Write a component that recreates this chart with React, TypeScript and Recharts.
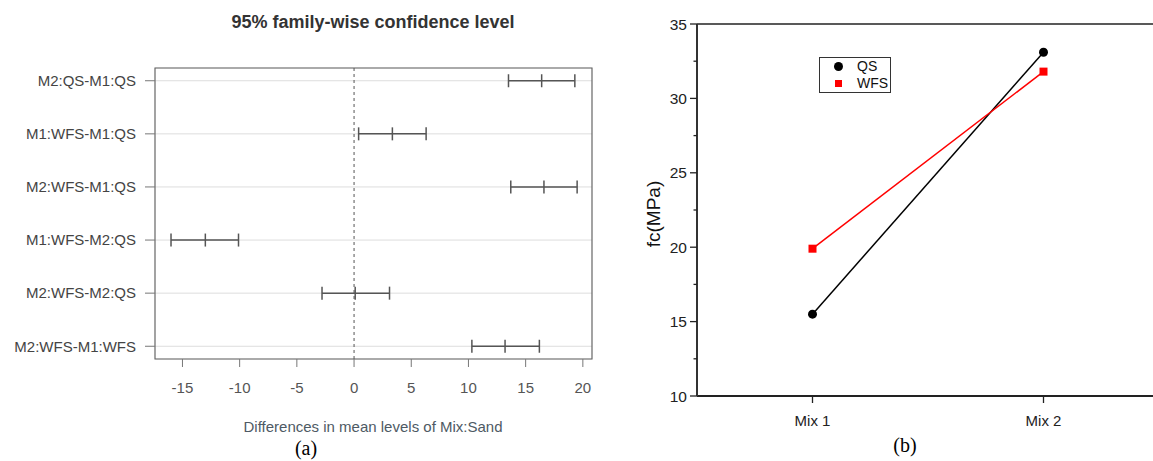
import {
  ScatterChart,
  Scatter,
  LineChart,
  Line,
  XAxis,
  YAxis,
  CartesianGrid,
  ReferenceLine,
  ReferenceArea,
} from "recharts";

// (a) Tukey HSD intervals
const comparisons = [
  "M2:QS-M1:QS",
  "M1:WFS-M1:QS",
  "M2:WFS-M1:QS",
  "M1:WFS-M2:QS",
  "M2:WFS-M2:QS",
  "M2:WFS-M1:WFS",
];
const diffLower = [13.5, 0.4, 13.7, -16.0, -2.8, 10.3];
const diffMean = [16.4, 3.35, 16.6, -13.0, 0.1, 13.2];
const diffUpper = [19.3, 6.3, 19.5, -10.1, 3.1, 16.2];
const diffTicks = [-15, -10, -5, 0, 5, 10, 15, 20];
const diffDomain = [-17.4, 20.8];
const rowDomain = [0.76, 6.24];

// (b) compressive strength
const mixes = ["Mix 1", "Mix 2"];
const qsStrength = [15.5, 33.1];
const wfsStrength = [19.9, 31.8];
const strengthTicks = [10, 12.5, 15, 17.5, 20, 22.5, 25, 27.5, 30, 32.5, 35];

const sans = "'Liberation Sans', Arial, sans-serif";
const serif = "'Liberation Serif', 'Times New Roman', serif";

const rows = comparisons.map((name, i) => ({
  name,
  points: [
    { x: diffLower[i], y: i + 1 },
    { x: diffMean[i], y: i + 1 },
    { x: diffUpper[i], y: i + 1 },
  ],
}));

const strengthData = mixes.map((m, i) => ({
  x: i + 1,
  mix: m,
  qs: qsStrength[i],
  wfs: wfsStrength[i],
}));

function IntervalTick(props: any) {
  const { cx, cy } = props;
  return (
    <line x1={cx} x2={cx} y1={cy - 6.5} y2={cy + 6.5} stroke="#555" strokeWidth={1.5} />
  );
}

function StrengthTick({ x, y, payload }: any) {
  const major = payload.value % 5 === 0;
  return (
    <g>
      <line x1={x - (major ? 7 : 3.5)} x2={x} y1={y} y2={y} stroke="#222" strokeWidth={1.3} />
      {major && (
        <text x={x - 10} y={y} textAnchor="end" dominantBaseline="central" fontSize={15.5} fill="#222" fontFamily={sans}>
          {payload.value}
        </text>
      )}
    </g>
  );
}

function SquareDot({ cx, cy, index }: any) {
  return <rect key={index} x={cx - 4} y={cy - 4} width={8} height={8} fill="#ff0000" />;
}

export default function App() {
  return (
    <div style={{ position: "relative", width: 1153, height: 461, overflow: "hidden", background: "#fff", fontFamily: sans }}>
      <style>{`body{margin:0}`}</style>

      {/* panel (a) */}
      <div style={{ position: "absolute", left: 173, width: 400, top: 12, textAlign: "center", fontSize: 18, fontWeight: "bold", color: "#333" }}>
        95% family-wise confidence level
      </div>
      <div style={{ position: "absolute", left: 0 }}>
        <ScatterChart width={600} height={400} margin={{ top: 68, right: 8, left: 0, bottom: 11 }}>
          <CartesianGrid vertical={false} stroke="#ddd" />
          <XAxis
            type="number"
            dataKey="x"
            domain={diffDomain}
            ticks={diffTicks}
            allowDataOverflow
            height={30}
            axisLine={false}
            tickLine={{ stroke: "#777" }}
            tickSize={8}
            tickMargin={15}
            tick={{ fill: "#555", fontSize: 15, fontFamily: sans }}
          />
          <YAxis
            type="number"
            dataKey="y"
            domain={rowDomain}
            ticks={[1, 2, 3, 4, 5, 6]}
            reversed
            allowDataOverflow
            width={155}
            axisLine={false}
            tickLine={{ stroke: "#777" }}
            tickSize={10}
            tickMargin={9}
            tickFormatter={(v: number) => comparisons[v - 1]}
            tick={{ fill: "#444", fontSize: 15, fontFamily: sans }}
          />
          <ReferenceArea
            x1={diffDomain[0]}
            x2={diffDomain[1]}
            y1={rowDomain[0]}
            y2={rowDomain[1]}
            fill="none"
            stroke="#666"
            strokeWidth={1.2}
          />
          <ReferenceLine x={0} stroke="#555" strokeDasharray="3 3" />
          {rows.map((r) => (
            <Scatter
              key={r.name}
              data={r.points}
              line={{ stroke: "#555", strokeWidth: 1.5 }}
              shape={IntervalTick}
              isAnimationActive={false}
            />
          ))}
        </ScatterChart>
      </div>
      <div style={{ position: "absolute", left: 173, width: 400, top: 418, textAlign: "center", fontSize: 15, color: "#4e5a64" }}>
        Differences in mean levels of Mix:Sand
      </div>
      <div style={{ position: "absolute", left: 256, width: 100, top: 437, textAlign: "center", fontSize: 20, fontFamily: serif, color: "#000" }}>
        (a)
      </div>

      {/* panel (b) */}
      <div style={{ position: "absolute", left: 620, top: 0 }}>
        <LineChart width={560} height={440} data={strengthData} margin={{ top: 24, right: 21, left: 0, bottom: 14 }}>
          <XAxis
            type="number"
            dataKey="x"
            domain={[0.5, 2.5]}
            ticks={[1, 2]}
            height={30}
            axisLine={{ stroke: "#222", strokeWidth: 2 }}
            tickLine={{ stroke: "#222", strokeWidth: 1.3 }}
            tickSize={7}
            tickMargin={12}
            tickFormatter={(v: number) => mixes[v - 1]}
            tick={{ fill: "#222", fontSize: 15, fontFamily: sans }}
          />
          <YAxis
            type="number"
            domain={[10, 35]}
            ticks={strengthTicks}
            interval={0}
            width={77}
            axisLine={{ stroke: "#333", strokeWidth: 2 }}
            tickLine={false}
            tickSize={0}
            tickMargin={0}
            tick={<StrengthTick />}
          />
          <ReferenceLine y={35} stroke="#222" strokeWidth={1.5} />
          <Line
            dataKey="qs"
            stroke="#000"
            strokeWidth={1.5}
            dot={{ r: 4.5, fill: "#000", stroke: "#000", strokeWidth: 0 }}
            isAnimationActive={false}
          />
          <Line
            dataKey="wfs"
            stroke="#ff0000"
            strokeWidth={1.5}
            dot={<SquareDot />}
            isAnimationActive={false}
          />
        </LineChart>
      </div>
      <div
        style={{
          position: "absolute",
          left: 645,
          top: 204,
          width: 18,
          height: 20,
          display: "flex",
          alignItems: "center",
          justifyContent: "center",
        }}
      >
        <div style={{ transform: "rotate(-90deg)", whiteSpace: "nowrap", fontSize: 19, color: "#111" }}>fc(MPa)</div>
      </div>
      <div
        style={{
          position: "absolute",
          left: 819,
          top: 57,
          width: 70,
          height: 34,
          border: "1px solid #333",
          fontSize: 14,
          color: "#111",
        }}
      >
        <div style={{ position: "absolute", left: 14, top: 4, width: 9, height: 9, borderRadius: "50%", background: "#000" }} />
        <div style={{ position: "absolute", left: 37, top: 0, lineHeight: "17px" }}>QS</div>
        <div style={{ position: "absolute", left: 15, top: 22, width: 7, height: 7, background: "#ff0000" }} />
        <div style={{ position: "absolute", left: 37, top: 17, lineHeight: "17px" }}>WFS</div>
      </div>
      <div style={{ position: "absolute", left: 855, width: 100, top: 434, textAlign: "center", fontSize: 20, fontFamily: serif, color: "#000" }}>
        (b)
      </div>
    </div>
  );
}
